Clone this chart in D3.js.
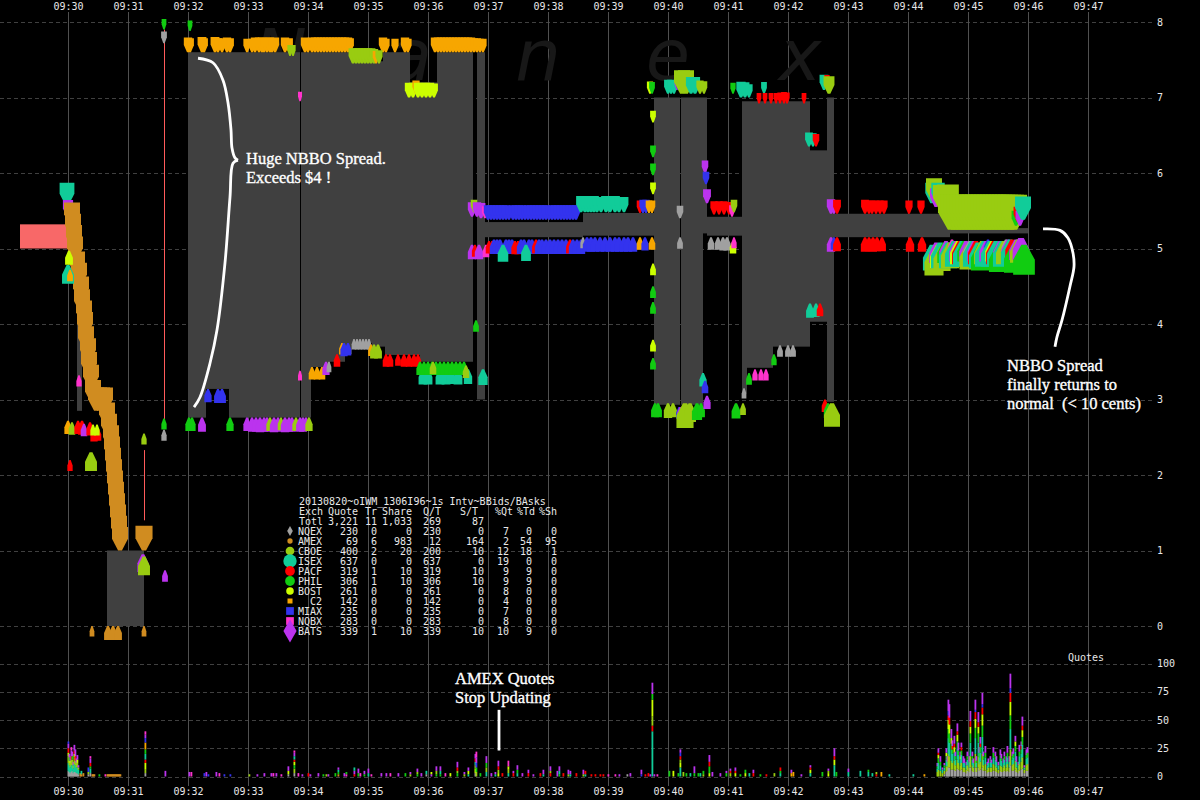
<!DOCTYPE html>
<html><head><meta charset="utf-8">
<script src="https://cdn.jsdelivr.net/npm/d3@7"></script>
<style>body{margin:0;background:#000}svg{display:block;background:#000}</style>
</head><body><svg id="c" width="1200" height="800"></svg>
<script>
// ---------- DATA ----------
const timeLabels = ["09:30","09:31","09:32","09:33","09:34","09:35","09:36","09:37","09:38","09:39","09:40","09:41","09:42","09:43","09:44","09:45","09:46","09:47"];
const tickSecs = [0,60,120,180,240,300,360,420,480,540,600,660,720,780,840,900,960,1020];
const priceTicks = [0,1,2,3,4,5,6,7,8];
const quoteTicks = [0,25,50,75,100];

const exchCodes = ["Q","A","C","I","P","H","B","T","M","N","Z"];
const exchNames = ["NQEX","AMEX","CBOE","ISEX","PACF","PHIL","BOST","C2","MIAX","NQBX","BATS"];
const exchColors = ["#a0a0a0","#d08c20","#99cc11","#11cc99","#ff0000","#11cc11","#ccff00","#f7a600","#3333ee","#ff33cc","#bb33ee"];

// NBBO spread segments (seconds after 09:30)
const nbboStart = [9,39,120,138,161,233,243,262,277,284,285,304,315,317,342,352,369,409,417,515,586,613,635,639,674,679,705,742,759,766,882];
const nbboEnd   = [14,76,138,161,232,243,262,277,284,285,304,315,317,342,352,369,405,417,515,586,612,635,639,674,679,705,742,759,766,882,960];
const nbboBid   = [2.85,0,2.76,3.14,2.76,2.76,3.43,3.5,3.6,3.75,3.75,3.7,3.7,3.59,3.59,3.5,3.5,3.0,5.15,5.17,2.93,2.93,5.2,5.17,3.08,3.42,3.7,4.03,2.97,5.15,5.2];
const nbboAsk   = [4.25,1.0,7.6,7.6,7.6,7.6,7.6,7.6,7.6,7.6,7.48,7.48,7.6,7.6,7.2,7.2,7.6,7.6,5.35,5.47,7.0,7.0,7.0,5.42,6.95,6.95,6.95,6.3,7.0,5.46,5.27];

// prior range box (left of 09:30)
const priorRange = {from:-48, to:0, low:5.0, high:5.32};
// single trade spike lines
const spikeSec = [96,76];
const spikeLow = [2.73,1.4];
const spikeHigh = [7.9,2.33];

// quotes: [sec, exchange, price, qty]
const quoteAsks = [
[-1,"P",5.66,2],[-1,"I",5.58,50],[0,"Z",5.42,20],
[4,"A",5.30,60],[5,"A",5.15,60],[6,"A",5.00,60],[7,"A",4.85,60],[9,"A",4.65,60],[11,"A",4.50,60],[13,"A",4.32,60],[14,"A",4.15,60],[16,"A",4.00,60],[17,"A",3.85,60],[18,"A",3.66,60],[20,"A",3.50,60],[21,"A",3.32,60],[23,"A",3.15,60],[25,"A",2.95,60],[28,"A",2.85,60],[31,"A",2.85,60],[34,"A",2.85,60],[37,"A",2.85,60],[39,"A",2.65,60],[41,"A",2.50,60],[43,"A",2.35,60],[44,"A",2.20,60],[45,"A",2.05,60],[46,"A",1.90,60],[47,"A",1.75,60],[48,"A",1.60,60],[49,"A",1.45,60],[50,"A",1.30,60],[51,"A",1.15,60],[52,"A",1.00,60],[76,"A",1.0,70],
[96,"Q",7.72,4],[96,"H",7.9,2],[122,"H",7.88,2],
[120,"T",7.6,12],[122,"T",7.6,10],[134,"T",7.6,14],[136,"T",7.6,10],[147,"T",7.6,14],[150,"T",7.6,10],[154,"T",7.6,10],[159,"T",7.6,12],[162,"T",7.6,10],[179,"T",7.6,8],[184,"T",7.6,8],[187,"T",7.6,12],[191,"T",7.6,12],[194,"T",7.6,12],[196,"T",7.6,10],[199,"T",7.6,12],[202,"T",7.6,12],[204,"T",7.6,10],[207,"T",7.6,12],[217,"T",7.6,12],[221,"T",7.6,10],[237,"T",7.6,12],[240,"T",7.6,10],[244,"T",7.6,12],[247,"T",7.6,12],[250,"T",7.6,12],[253,"T",7.6,12],[256,"T",7.6,12],[259,"T",7.6,12],[262,"T",7.6,12],[265,"T",7.6,12],[268,"T",7.6,12],[271,"T",7.6,12],[274,"T",7.6,12],[277,"T",7.6,12],[280,"T",7.6,12],[282,"T",7.6,10],[315,"T",7.6,12],[318,"T",7.6,8],[327,"T",7.6,8],[337,"T",7.6,12],[340,"T",7.6,8],[367,"T",7.6,12],[370,"T",7.6,12],[373,"T",7.6,12],[376,"T",7.6,12],[379,"T",7.6,12],[382,"T",7.6,12],[385,"T",7.6,12],[388,"T",7.6,12],[391,"T",7.6,12],[394,"T",7.6,12],[397,"T",7.6,12],[400,"T",7.6,12],[403,"T",7.6,12],[406,"T",7.6,10],[409,"T",7.6,10],[412,"T",7.6,8],[415,"T",7.6,8],
[222,"C",7.55,3],[225,"C",7.55,3],
[285,"C",7.45,14],[288,"C",7.45,14],[291,"C",7.45,14],[294,"C",7.45,14],[297,"C",7.45,14],[300,"C",7.45,14],[303,"C",7.45,14],[306,"C",7.45,12],[308,"T",7.45,6],[311,"C",7.45,8],
[232,"N",6.95,1],
[341,"B",7.0,12],[345,"B",7.0,12],[348,"T",7.05,8],[350,"B",7.0,12],[354,"B",7.0,12],[358,"B",7.0,12],[362,"B",7.0,12],[366,"B",7.0,10],
[404,"Z",5.42,12],[406,"C",5.48,6],[409,"Z",5.42,12],[413,"Z",5.40,14],[417,"N",5.40,5],
[420,"M",5.38,12],[423,"M",5.38,12],[426,"M",5.38,12],[429,"M",5.38,12],[432,"M",5.38,12],[435,"M",5.38,12],[438,"M",5.38,12],[441,"M",5.38,10],[445,"M",5.38,12],[448,"M",5.38,12],[451,"M",5.38,12],[454,"M",5.38,12],[457,"M",5.38,10],[460,"M",5.38,12],[463,"M",5.38,12],[466,"M",5.38,12],[469,"M",5.38,12],[472,"M",5.38,12],[475,"M",5.38,12],[478,"M",5.38,12],[481,"M",5.38,10],[484,"M",5.38,12],[487,"M",5.38,12],[490,"M",5.38,12],[493,"M",5.38,12],[496,"M",5.38,12],[499,"M",5.38,12],[502,"M",5.38,12],[505,"M",5.38,12],[508,"M",5.38,12],
[513,"I",5.48,18],[517,"I",5.48,18],[520,"I",5.48,18],[523,"I",5.48,18],[526,"I",5.48,18],[529,"I",5.48,14],[533,"I",5.48,14],[538,"I",5.48,18],[542,"I",5.48,18],[547,"I",5.48,18],[551,"I",5.48,14],[556,"I",5.48,14],
[572,"P",5.47,6],[575,"M",5.47,8],[578,"M",5.47,8],[581,"T",5.47,6],[584,"T",5.47,6],
[582,"B",7.05,5],[584,"H",7.05,4],[585,"B",6.67,4],[585,"H",6.21,4],[585,"H",5.97,4],[585,"B",5.72,4],
[600,"I",7.05,10],[603,"I",7.05,10],[606,"I",7.05,8],[609,"Z",7.1,2],[610,"M",7.1,2],[614,"C",7.05,60],[618,"C",7.05,60],[623,"I",7.05,20],[627,"I",7.05,20],[632,"C",7.05,8],[636,"C",7.05,6],
[612,"Q",5.4,6],
[637,"Z",6.0,6],[638,"M",5.85,6],[639,"Z",5.6,10],
[646,"P",5.45,8],[651,"P",5.45,8],[656,"P",5.45,8],[661,"P",5.45,6],[664,"N",5.42,4],[666,"C",5.48,6],
[665,"H",7.05,3],[673,"I",7.0,16],[677,"I",7.0,14],[681,"I",7.0,8],[696,"I",7.05,4],[691,"P",6.92,2],[697,"P",6.92,2],[703,"P",6.92,2],[708,"P",6.92,2],[712,"P",6.92,3],[716,"P",6.92,4],[719,"P",6.92,3],[736,"P",6.92,2],
[741,"I",6.35,10],[745,"I",6.35,8],[748,"P",6.35,6],
[756,"I",7.1,14],[759,"P",7.15,3],[761,"C",7.05,24],
[763,"Z",5.46,12],[766,"Z",5.46,8],[769,"P",5.46,10],[797,"P",5.46,10],[801,"P",5.46,8],[804,"P",5.46,8],[808,"P",5.46,8],[812,"P",5.46,8],[816,"P",5.46,8],[841,"P",5.46,8],[853,"P",5.46,8],
[864,"I",5.6,40],[866,"C",5.62,60],[868,"Z",5.55,30],[870,"I",5.6,40],[872,"H",5.55,20],[874,"C",5.5,80],[876,"N",5.5,10],[878,"I",5.5,40],[880,"C",5.45,120],
[883,"C",5.25,180],[886,"C",5.25,180],[889,"C",5.25,180],[892,"C",5.25,180],[895,"C",5.25,180],[898,"C",5.25,180],[901,"C",5.25,180],[904,"C",5.25,180],[907,"C",5.25,180],[910,"C",5.25,180],[913,"C",5.25,180],[916,"C",5.25,180],[919,"C",5.25,180],[922,"C",5.25,180],[925,"C",5.25,180],[928,"C",5.25,180],[931,"C",5.25,180],[934,"C",5.25,180],[937,"C",5.25,180],[940,"C",5.25,180],[943,"C",5.25,180],[946,"C",5.25,180],
[948,"H",5.3,14],[950,"P",5.35,14],[952,"Z",5.3,14],[955,"I",5.38,60]
];
const quoteBids = [
[0,"I",4.78,30],[1,"B",4.97,10],[2,"T",4.72,4],[2,"P",2.2,3],[0,"T",2.72,8],[4,"C",2.7,6],
[10,"P",2.72,8],[14,"P",2.72,10],[16,"Z",2.68,6],[22,"P",2.7,8],[26,"P",2.62,8],[30,"P",2.62,6],[25,"B",2.67,3],[29,"B",2.67,3],
[23,"C",2.3,30],[11,"N",3.32,3],
[75,"Z",0.95,25],[76,"C",0.92,30],[97,"Z",0.74,4],[96,"H",2.75,3],[96,"Q",2.6,3],[76,"C",2.55,3],
[24,"A",0,2],[40,"A",0,10],[45,"A",0,10],[50,"A",0,10],[76,"A",0,2],
[121,"H",2.76,8],[124,"H",2.76,8],[134,"Z",2.76,10],[162,"H",2.76,8],
[140,"M",3.14,8],[150,"M",3.14,10],[154,"M",3.14,10],
[179,"Z",2.76,8],[184,"Z",2.76,10],[188,"Z",2.76,10],[192,"Z",2.76,12],[196,"Z",2.76,10],[199,"Z",2.76,10],[202,"C",2.76,8],[206,"Z",2.76,12],[210,"Z",2.76,10],[213,"C",2.76,6],[217,"Z",2.76,12],[221,"Z",2.76,10],[224,"Z",2.76,10],[228,"C",2.76,8],[232,"Z",2.76,10],[235,"Z",2.76,10],[238,"Z",2.76,8],[241,"C",2.76,8],
[232,"N",3.38,1],
[244,"T",3.43,6],[249,"T",3.43,6],[254,"T",3.43,6],[258,"Z",3.5,8],[261,"Q",3.5,2],[269,"P",3.6,6],[274,"T",3.75,4],[276,"M",3.75,8],[280,"M",3.75,6],
[286,"Q",3.8,2],[289,"Q",3.8,2],[292,"Q",3.8,2],[295,"Q",3.8,2],[298,"Q",3.8,2],[301,"Q",3.8,2],
[303,"T",3.73,4],[306,"C",3.73,10],[310,"C",3.73,10],
[318,"P",3.6,6],[322,"P",3.6,6],[330,"P",3.6,4],[336,"P",3.6,6],[341,"P",3.6,6],[346,"P",3.6,6],[350,"P",3.6,5],
[355,"I",3.4,14],[360,"I",3.4,14],[372,"I",3.4,14],[378,"I",3.4,14],[383,"I",3.4,12],[390,"I",3.4,14],[400,"I",3.4,12],[415,"I",3.4,16],
[352,"H",3.5,8],[356,"H",3.5,8],[360,"H",3.5,8],[364,"H",3.5,8],[368,"H",3.5,8],[372,"H",3.5,8],[376,"H",3.5,8],[380,"H",3.5,8],[384,"H",3.5,8],[388,"H",3.5,8],[392,"H",3.5,8],[396,"H",3.5,8],
[365,"C",3.5,6],[398,"C",3.45,6],[408,"H",4.05,4],
[404,"Z",5.05,12],[407,"P",5.05,5],[411,"Z",5.05,12],[418,"N",5.05,6],[421,"P",5.1,6],[424,"P",5.1,6],
[426,"M",5.12,12],[429,"M",5.12,12],[432,"M",5.12,12],[438,"M",5.12,12],[441,"M",5.12,12],[444,"M",5.12,12],[447,"P",5.1,8],[450,"P",5.1,8],[453,"M",5.12,12],[456,"M",5.12,12],[461,"M",5.12,12],[464,"M",5.12,12],[468,"P",5.12,10],[471,"M",5.12,12],[474,"M",5.12,12],[478,"M",5.12,12],[482,"M",5.12,12],[486,"M",5.12,12],[490,"M",5.12,12],[494,"M",5.12,12],[498,"M",5.12,12],[502,"P",5.12,10],[505,"M",5.12,12],[509,"M",5.12,12],[513,"M",5.12,12],
[435,"I",5.05,22],[458,"I",5.05,18],
[515,"Q",5.15,3],[519,"M",5.15,12],[523,"M",5.15,12],[527,"M",5.15,12],[532,"M",5.15,12],[537,"M",5.15,12],[542,"M",5.15,12],[547,"M",5.15,12],[551,"M",5.15,12],[556,"M",5.15,12],[560,"M",5.15,12],[565,"M",5.15,12],
[572,"T",5.15,6],[577,"M",5.15,8],[584,"T",5.15,6],
[585,"B",4.8,4],[585,"H",4.5,4],[585,"H",4.29,4],[585,"B",3.79,4],[585,"H",3.55,4],
[587,"H",2.95,10],[590,"H",2.95,10],[600,"C",2.95,12],[605,"C",2.95,10],[611,"M",2.9,4],[612,"Z",2.9,4],[617,"C",2.95,70],[622,"C",2.95,30],[629,"H",2.95,20],[633,"H",2.95,10],
[635,"I",3.35,8],[637,"M",3.25,6],[639,"Z",3.05,8],
[612,"Q",5.15,4],[643,"Q",5.15,6],[650,"Q",5.15,6],[655,"Q",5.15,8],[659,"Q",5.15,8],[665,"B",5.1,6],[666,"N",5.15,3],
[668,"H",2.95,14],[675,"C",2.95,4],[676,"Q",3.15,2],[681,"H",3.35,4],[687,"N",3.4,3],[693,"N",3.4,3],[698,"N",3.4,3],[706,"H",3.6,3],[712,"Q",3.72,4],[720,"Q",3.72,4],[725,"Q",3.72,4],
[742,"I",4.27,10],[748,"I",4.27,8],[752,"P",4.27,6],
[757,"P",3.0,6],[760,"H",2.95,12],[764,"C",2.95,60],
[763,"Z",5.15,12],[766,"M",5.15,6],[769,"P",5.15,10],[797,"P",5.15,12],[801,"P",5.15,10],[805,"P",5.15,12],[809,"P",5.15,10],[814,"P",5.15,10],[842,"P",5.15,12],[854,"P",5.15,12],
[864,"I",5.05,80],[866,"C",5.0,90],[868,"Z",5.08,40],[870,"B",5.05,60],[872,"I",5.08,80],[874,"C",5.03,70],[876,"H",5.08,40],[878,"Z",5.1,40],[880,"I",5.08,80],[882,"C",5.08,80],[884,"N",5.12,12],[886,"I",5.1,80],[888,"Z",5.1,40],[890,"B",5.1,60],[892,"P",5.1,60],[894,"I",5.1,80],[896,"H",5.1,40],[898,"Z",5.1,40],[900,"C",5.05,70],[902,"Q",5.1,40],[904,"I",5.1,80],[906,"Z",5.1,40],[908,"P",5.1,60],[910,"I",5.08,80],[912,"H",5.05,80],[914,"C",5.1,60],[916,"I",5.1,80],[918,"Z",5.1,40],[920,"M",5.12,12],[922,"I",5.1,80],[924,"B",5.1,40],[926,"P",5.1,60],[928,"I",5.1,80],[930,"H",5.03,80],[932,"Z",5.1,40],[934,"I",5.1,80],[936,"C",5.1,60],[938,"Q",5.12,14],[940,"Z",5.12,40],[942,"I",5.12,80],[944,"P",5.12,40],[946,"H",5.05,100],[948,"Z",5.12,40],[950,"C",5.12,60],[952,"Z",5.14,50],[954,"Z",5.14,50],[956,"H",5.05,120]
];

// quotes per second, stacked by exchange (code + count, bottom to top)
const quoteBars = [
[0,"Q5I7C6B3P4Z4M2"],[1,"Q4I6C4H3Z3"],[2,"Q3I5C4B2Z4"],[3,"Q4I6C5P3Z5N3"],[4,"Q5I5C5H3Z4"],[5,"Q3I4C3Z3"],[6,"Q4I7C6B3P3Z5"],[7,"Q4I6C4P4Z6"],[8,"Q3I5C4Z4"],[9,"Q3I5C4B3Z4"],[10,"Q2I4C2Z2"],[12,"A3"],[13,"A2I3"],[15,"A3"],[20,"Q2C2M4"],[22,"Q3I4H2P3Z4N2"],[24,"A2"],[25,"A2"],[26,"A2"],[31,"H2"],[37,"N2"],
[39,"A2"],[40,"A2"],[41,"A2"],[42,"A2"],[43,"A2"],[44,"A2"],[45,"A2"],[46,"A2"],[47,"A2"],[48,"A2"],[49,"A2"],[50,"A2"],[51,"A2"],[52,"A2"],
[77,"Q3C3B6P3I5H4T6M4Z3N3"],[97,"Z5"],[121,"Z4"],[123,"N4"],[136,"M3"],[138,"Z4"],[140,"M2"],[148,"Z4"],[151,"N3"],[156,"M2"],[162,"M2"],
[181,"C2"],[189,"Z2"],[196,"Z3"],[203,"Z3"],[205,"N3"],[208,"Z3"],[213,"N2"],[220,"Q2B3Z4"],[226,"Q3C4H3B3P2I3Z3N2"],[230,"N3"],[234,"Z2"],[240,"P3"],[242,"Z2"],[250,"Z3"],[255,"H2"],[258,"C2"],[260,"Z2"],[267,"H3"],[270,"A2H2I2Z2"],[276,"Z3"],[278,"N2H2"],[286,"P2Z3I3"],[290,"H3Z4"],[292,"N3"],[296,"H2Z3"],[300,"I3Z4"],[303,"N2"],[313,"Z3"],[318,"Z3"],[322,"N3"],[330,"Z3"],[337,"H3"],[342,"C2Z2"],[349,"H2C2Z3"],[353,"Z3"],[358,"Q2I3"],[363,"Z2B2"],[368,"H2C3Z4"],[372,"H2I3Z4"],[377,"N3"],[382,"B3"],[389,"H3C2P3Z5"],[396,"C2Z2"],[400,"I2B3Z3"],[407,"Q3B4C3I3P3Z4"],[408,"C4H4M4Z5N5"],[412,"H3"],[418,"I4C4H4Z6"],[423,"Z3"],[427,"I2Z2"],[430,"B3C3P3Z5"],[434,"P3"],[440,"I3C3B3N5"],[445,"P3Z2"],[449,"I3H3Z4"],[454,"Z3"],[460,"P3Z3"],[465,"Z2"],[472,"P3"],[475,"I2Z4"],[482,"P3C2Z4"],[489,"Z5"],[491,"H2I3Z4"],[495,"P3"],[500,"C2Z4"],[502,"I2Z3"],[508,"P3"],[515,"C2Z4"],[517,"I2P3"],[523,"P2"],[527,"P2"],[532,"P2"],[535,"P2"],[540,"N2"],[547,"N2"],[551,"Z2"],[559,"Q2"],[562,"Z3"],[573,"M2Z4"],[577,"P2"],[580,"P3"],[582,"Z2"],
[584,"I40P5C8B15H5Z10"],[586,"Z2"],[589,"N2"],[601,"H5"],[605,"B5"],[610,"H3"],[612,"I8B4C3P3M3Z3"],[615,"C4"],[618,"H3"],[622,"I3"],[626,"H3Z6"],[630,"H3"],[632,"I3"],[635,"C2H3"],[641,"B3H6P4Z6"],[644,"Z4"],[652,"Z3"],[658,"H3Z2"],[662,"C3P2Z2"],[667,"B3P2Z3"],[672,"H2"],[677,"B3H3"],[681,"I3"],[685,"P3Z3"],[692,"H2"],[698,"P2"],[706,"C3"],[712,"I3H2P3"],[723,"T3Z3"],[725,"T4"],[733,"Z2"],[742,"I3B3P2Z2"],[754,"H4"],[760,"B3C2Z2"],[766,"I10B5P3Z7"],[768,"H4"],[780,"I4Z3"],[792,"I5"],[800,"I4H2"],[804,"I3"],[808,"P2C2"],[813,"T4"],[821,"I2"],[845,"I2"],[856,"T2"],
[869,"C4I3H2Z3"],[870,"C6I6H4B3P2Z4"],[872,"C5I5H3Z5"],[874,"C3I3Z2"],[876,"Q2C3I3H2Z2"],[878,"Q4C5I6H3B3Z4"],[879,"Q5C4I4Z5"],[880,"Q8C12I14H8B8P4M4Z10"],[881,"Q8C10I12H8B8P6Z12"],[883,"Q6C8I10H5B5Z8"],[884,"Q6C6I8H4P3Z5"],[886,"Q6C8I7B5P3Z7"],[887,"Q5C5I5H3Z4"],[889,"Q7C8I10H6B6P3Z7"],[890,"Q6C6I7H4Z7"],[892,"Q5C5I5B3Z4"],[893,"Q6C6I7H4P3Z4"],[895,"Q4C4I4Z6"],[896,"Q4C4I4Z4"],[898,"Q3C3I4Z3"],[899,"Q5C5I5H3Z4"],[901,"Q4C4I5Z5"],[902,"Q8C10I12H8B6P5Z9"],[904,"Q5C5I5H3Z4"],[905,"Q4C4I4Z4"],[907,"Q8C12I14H9B8P6M2Z9"],[908,"Q4C4I4H2Z4"],[910,"Q8C10I12H8B6P4Z9"],[911,"Q5C6I6H4Z5"],[912,"Q6C7I8H5P3Z6"],[914,"Q8C12I15H10B10P6M3Z10"],[915,"Q5C5I5H3Z4"],[917,"Q5C6I6H4Z6"],[919,"Q3C3I4Z3"],[920,"Q4C4I4Z4"],[922,"Q4C4I5H2Z3"],[923,"Q4C4I4Z3"],[925,"Q5C6I6H4Z5"],[927,"Q5C5I5H3Z4"],[928,"Q4C4I5Z5"],[930,"Q3C3I4Z3"],[932,"Q5C5I6H3Z5"],[933,"Q4C5I5H2Z4"],[935,"Q4C4I4Z4"],[936,"Q5C5I5H3Z4"],[938,"Q4C4I5Z5"],[939,"Q5C6I6H4Z6"],[941,"Q4C4I5Z5"],[942,"Q10C14I18H12B12P8M4Z13"],[944,"Q5C5I5H3Z4"],[945,"Q5C6I6H3Z5"],[947,"Q6C8I8H5B4Z5"],[948,"Q4C4I5Z5"],[950,"Q3C3I4Z3"],[951,"Q5C6I7H4Z6"],[953,"Q6C7I7H4P3Z4"],[954,"Q7C10I11H7B6P4Z8"],[956,"Q3C3I2Z2"],[958,"Q5C5I6H3Z5"],[959,"Q5C6I6H4Z5"]
];

// summary table
const tableTitle = "20130820~oIWM_1306I96~1s Intv~BBids/BAsks";
const tableHeaders = ["Quote","Tr","Share","Q/T","S/T","%Qt","%Td","%Sh"];
const totalRow = ["3,221","11","1,033","269","87","","",""];
const colQuote = [230,69,400,637,319,306,261,142,235,283,339];
const colTr    = [0,6,2,0,1,1,0,0,0,0,1];
const colShare = [0,983,20,0,10,10,0,0,0,0,10];
const colQT    = [230,12,200,637,319,306,261,142,235,283,339];
const colST    = [0,164,10,0,10,10,0,0,0,0,10];
const colPQt   = [7,2,12,19,9,9,8,4,7,8,10];
const colPTd   = [0,54,18,0,9,9,0,0,0,0,9];
const colPSh   = [0,95,1,0,0,0,0,0,0,0,0];

// annotation strokes (sec, price) and (sec, quotes)
const braceTop = [[130,7.52],[145,7.46],[155,7.23],[160,6.93],[163,6.57],[164,6.33],[167,6.2],[170,6.17]];
const braceBottom = [[170,6.17],[165,6.13],[162,5.68],[157,4.81],[149,3.92],[142,3.48],[132,3.03],[126,2.9]];
const normalCurve = [[975,5.26],[992,5.24],[1000,5.14],[1005,4.94],[1006,4.76],[1002,4.5],[994,4.05],[989,3.83],[987,3.7]];
const amexMark = {sec:431, from:23, to:59};

// ---------- DRAW ----------
const svg = d3.select("#c");
const x = d3.scaleLinear().domain([0,1020]).range([68,1088]);
const y = d3.scaleLinear().domain([0,8]).range([626,22]);
const yq = d3.scaleLinear().domain([0,100]).range([776.5,663.5]);
const wS = d3.scaleSqrt().domain([1,100]).range([4,20]);
const color = d3.scaleOrdinal().domain(exchCodes).range(exchColors);
const mono = "'DejaVu Sans Mono', monospace";

// horizontal dashed grid
const grid = svg.append("g");
grid.selectAll("line.hp").data(priceTicks).join("line")
  .attr("x1",0).attr("x2",1152).attr("y1",d=>Math.round(y(d))+0.5).attr("y2",d=>Math.round(y(d))+0.5)
  .attr("stroke","#404040").attr("stroke-dasharray","4,3");
grid.selectAll("line.hq").data(quoteTicks).join("line")
  .attr("x1",0).attr("x2",1152).attr("y1",d=>Math.round(yq(d))+0.5).attr("y2",d=>Math.round(yq(d))+0.5)
  .attr("stroke","#404040").attr("stroke-dasharray","4,3");
// vertical grid
grid.selectAll("line.v").data(tickSecs).join("line")
  .attr("x1",d=>Math.round(x(d))+0.5).attr("x2",d=>Math.round(x(d))+0.5).attr("y1",12).attr("y2",786)
  .attr("stroke","#505050");

// watermark
const wm = svg.append("g").attr("font-family","'DejaVu Sans', sans-serif").attr("font-style","italic")
  .attr("font-size",72).attr("fill","#181818").attr("text-anchor","middle");
[["N",280],["a",410],["n",538],["e",668],["x",800]].forEach(([t,px])=>wm.append("text").attr("x",px).attr("y",80).text(t));

// prior range box
svg.append("rect").attr("x",x(priorRange.from)).attr("width",x(priorRange.to)-x(priorRange.from))
  .attr("y",y(priorRange.high)).attr("height",y(priorRange.low)-y(priorRange.high)).attr("fill","#f86868");

// NBBO spread
svg.append("g").selectAll("rect").data(nbboStart.map((s,i)=>({s,e:nbboEnd[i],b:nbboBid[i],a:nbboAsk[i]}))).join("rect")
  .attr("x",d=>x(d.s)).attr("width",d=>x(d.e)-x(d.s))
  .attr("y",d=>y(d.a)).attr("height",d=>y(d.b)-y(d.a)).attr("fill","#404040");

// spike lines
svg.append("g").selectAll("line").data(spikeSec).join("line")
  .attr("x1",d=>x(d)+0.5).attr("x2",d=>x(d)+0.5).attr("y1",(d,i)=>y(spikeHigh[i])).attr("y2",(d,i)=>y(spikeLow[i]))
  .attr("stroke","#ff5a5a");

// quote markers
function pin(cx, ty, w, h, dir){
  const yb = ty - dir*h, ym = ty - dir*h*0.5, s = Math.max(0.7, w*0.12);
  return `M${cx-w/2},${yb}H${cx+w/2}V${ym}L${cx+s},${ty}H${cx-s}L${cx-w/2},${ym}Z`;
}
const mk = svg.append("g");
mk.selectAll("path.ask").data(quoteAsks).join("path").attr("class","ask")
  .attr("d",d=>{const w=wS(d[3]);return pin(x(d[0]), y(d[2]), w, 5+w*1.15, 1);})
  .attr("fill",d=>color(d[1]));
mk.selectAll("path.bid").data(quoteBids).join("path").attr("class","bid")
  .attr("d",d=>{const w=wS(d[3]);return pin(x(d[0]), y(d[2]), w, 5+w*1.15, -1);})
  .attr("fill",d=>color(d[1]));

// stacked quote bars
function parseMix(s){ return Array.from(s.matchAll(/([A-Z])(\d+)/g)).map(m=>({ex:m[1],n:+m[2]})); }
const barG = svg.append("g");
quoteBars.forEach(([sec,mix])=>{
  let acc = 0;
  parseMix(mix).forEach(p=>{
    barG.append("rect").attr("x",x(sec)-0.5).attr("width",1.8)
      .attr("y",yq(acc+p.n)).attr("height",yq(acc)-yq(acc+p.n)).attr("fill",color(p.ex));
    acc += p.n;
  });
});

// axes
const axStyle = g=>{ g.select(".domain").remove(); g.selectAll("text").attr("fill","#e8e8e8").attr("font-family",mono).attr("font-size",10); };
svg.append("g").attr("transform","translate(0,11)")
  .call(d3.axisTop(x).tickValues(tickSecs).tickFormat((d,i)=>timeLabels[i]).tickSize(0).tickPadding(1)).call(axStyle);
svg.append("g").attr("transform","translate(0,787)")
  .call(d3.axisBottom(x).tickValues(tickSecs).tickFormat((d,i)=>timeLabels[i]).tickSize(0).tickPadding(1)).call(axStyle);
svg.append("g").attr("transform","translate(1155,0)")
  .call(d3.axisRight(y).tickValues(priceTicks).tickFormat(d3.format("d")).tickSize(0).tickPadding(2)).call(axStyle);
svg.append("g").attr("transform","translate(1155,0)")
  .call(d3.axisRight(yq).tickValues(quoteTicks).tickFormat(d3.format("d")).tickSize(0).tickPadding(2)).call(axStyle);
svg.append("text").attr("x",1068).attr("y",661).attr("fill","#e8e8e8").attr("font-family",mono).attr("font-size",10).text("Quotes");

// summary table
const tb = svg.append("g").attr("font-family",mono).attr("font-size",10).attr("fill","#e8e8e8");
tb.append("text").attr("x",299).attr("y",505).text(tableTitle);
tb.append("text").attr("x",299).attr("y",515).text("Exch");
const hdrX = [358,377,412,441,478,513,535,557];
const valX = [358,377,412,441,484,509,532,557];
tableHeaders.forEach((h,i)=>tb.append("text").attr("x",hdrX[i]).attr("y",515).attr("text-anchor","end").text(h));
tb.append("text").attr("x",299).attr("y",525).text("Totl");
totalRow.forEach((v,i)=>{ if(v) tb.append("text").attr("x",valX[i]).attr("y",525).attr("text-anchor","end").text(v); });
const cols = [colQuote,colTr,colShare,colQT,colST,colPQt,colPTd,colPSh];
const symShapes = [d3.symbolDiamond,d3.symbolCircle,d3.symbolCircle,d3.symbolCircle,d3.symbolCircle,d3.symbolCircle,d3.symbolCircle,d3.symbolSquare,d3.symbolSquare,d3.symbolSquare,d3.symbolDiamond];
const symSizes = [28,22,60,140,75,75,45,25,60,60,150];
exchNames.forEach((nm,r)=>{
  const yy = 535 + r*10;
  tb.append("text").attr("x",322).attr("y",yy).attr("text-anchor","end").text(nm);
  cols.forEach((c,i)=>tb.append("text").attr("x",valX[i]).attr("y",yy).attr("text-anchor","end").text(c[r]));
  tb.append("path").attr("transform",`translate(290,${yy-4})`).attr("d",d3.symbol(symShapes[r],symSizes[r])()).attr("fill",exchColors[r]);
});

// annotations
const serif = "'Liberation Serif','DejaVu Serif',serif";
const line = d3.line().x(d=>x(d[0])).y(d=>y(d[1])).curve(d3.curveCatmullRom);
svg.append("path").attr("d",line(braceTop)).attr("fill","none").attr("stroke","#fff").attr("stroke-width",2.8);
svg.append("path").attr("d",line(braceBottom)).attr("fill","none").attr("stroke","#fff").attr("stroke-width",2.8);
svg.append("path").attr("d",line(normalCurve)).attr("fill","none").attr("stroke","#fff").attr("stroke-width",2.8);
svg.append("line").attr("x1",x(amexMark.sec)).attr("x2",x(amexMark.sec)).attr("y1",yq(amexMark.to)).attr("y2",yq(amexMark.from))
  .attr("stroke","#fff").attr("stroke-width",2.8);
const ann = svg.append("g").attr("font-family",serif).attr("font-size",16.5).attr("fill","#fff")
  .attr("stroke","#fff").attr("stroke-width",0.35);
[["Huge NBBO Spread.",246,164],["Exceeds $4 !",246,183],["AMEX Quotes",455,684],["Stop Updating",455,703],
 ["NBBO Spread",1007,371],["finally returns to",1007,390],["normal\u00a0\u00a0(< 10 cents)",1007,409]]
 .forEach(([t,px,py])=>ann.append("text").attr("x",px).attr("y",py).text(t));
</script></body></html>
